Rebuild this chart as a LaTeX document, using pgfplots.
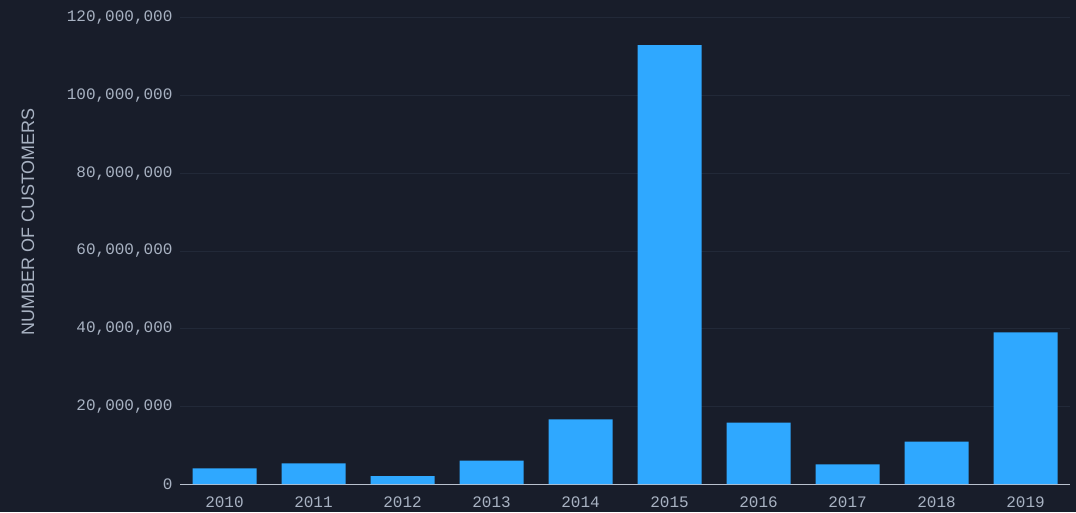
\documentclass[border=0pt]{standalone}
\usepackage{pgfplots}
\pgfplotsset{compat=1.18}
\usepackage{fontspec}
\setmainfont{Liberation Sans}
\newfontfamily\tickfont{Liberation Mono}
\definecolor{bg}{HTML}{181D2A}
\definecolor{barc}{HTML}{2FA8FF}
\definecolor{txt}{HTML}{A8B2C2}
\definecolor{gridc}{HTML}{222938}
\begin{document}
\begin{tikzpicture}
\fill[bg] (0,0) rectangle (1076pt,512pt);
\begin{axis}[
  at={(180pt,28pt)}, anchor=south west,
  scale only axis, width=890pt, height=466pt,
  xmin=-0.5, xmax=9.5, ymin=0, ymax=120000000,
  ybar, bar width=64pt,
  xtick={0,...,9},
  xticklabels={2010,2011,2012,2013,2014,2015,2016,2017,2018,2019},
  ytick={0,20000000,40000000,60000000,80000000,100000000,120000000},
  scaled y ticks=false,
  /pgf/number format/fixed,
  /pgf/number format/1000 sep={,},
  /pgf/number format/assume math mode=true,
  tick label style={font=\tickfont\fontsize{16}{16}\selectfont, text=txt},
  xticklabel style={yshift=-9pt},
  yticklabel style={xshift=-4pt},
  major tick length=0pt,
  axis x line*=bottom, axis y line*=left,
  x axis line style={draw=txt!80, line width=1pt, -},
  y axis line style={draw=none},
  ymajorgrids, grid style={draw=gridc, line width=1pt},
  axis background/.style={fill=bg},
  clip=false,
]
\addplot[fill=barc, draw=none, bar shift=0pt] coordinates {
(0,4040000) (1,5330000) (2,2060000) (3,6000000) (4,16660000)
(5,113000000) (6,15800000) (7,5070000) (8,10900000) (9,39060000)};
\end{axis}
\node[rotate=90, text=txt, font=\fontsize{18}{18}\selectfont] at (28pt,290pt) {NUMBER OF CUSTOMERS};
\pgfresetboundingbox
\path (0,0) rectangle (1076pt,512pt);
\end{tikzpicture}
\end{document}
